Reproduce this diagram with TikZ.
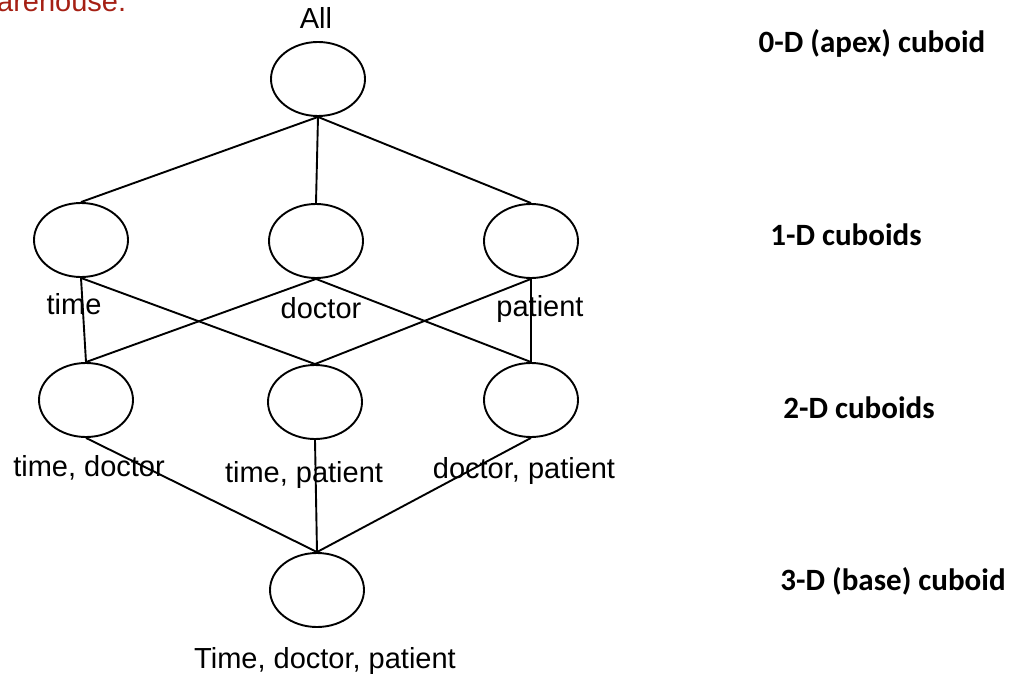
\documentclass[tikz,border=0pt]{standalone}
\usepackage{fontspec}
\setmainfont{Liberation Sans}
\newfontfamily\carlitofont{Carlito}
\usetikzlibrary{shapes.geometric}
\definecolor{hdred}{RGB}{165,32,20}
\begin{document}
\begin{tikzpicture}[x=1pt,y=-1pt,
  cub/.style={draw,ellipse,line width=1.9pt,minimum width=94pt,minimum height=74pt,inner sep=0pt},
  lbl/.style={anchor=base,inner sep=0pt,font=\fontsize{29}{34}\selectfont},
  lvl/.style={anchor=base,inner sep=0pt,font=\carlitofont\bfseries\fontsize{31}{36}\selectfont},
  con/.style={line width=1.9pt}]
\useasboundingbox (0,0) rectangle (1015,674);
\node[anchor=base west,inner sep=0pt,text=hdred,font=\fontsize{29}{34}\selectfont] (hd) at (-3,12) {arehouse.};
\node[cub] (a) at (318,79) {};
\node[cub] (t) at (81,240) {};
\node[cub] (d) at (316,241) {};
\node[cub] (p) at (531,241) {};
\node[cub] (td) at (86,400) {};
\node[cub] (tp) at (315,402) {};
\node[cub] (dp) at (531,400) {};
\node[cub] (b) at (317,590) {};
\draw[con] (a.south) -- (t.north);
\draw[con] (a.south) -- (d.north);
\draw[con] (a.south) -- (p.north);
\draw[con] (t.south) -- (td.north);
\draw[con] (t.south) -- (tp.north);
\draw[con] (d.south) -- (td.north);
\draw[con] (d.south) -- (dp.north);
\draw[con] (p.south) -- (tp.north);
\draw[con] (p.south) -- (dp.north);
\draw[con] (td.south) -- (b.north);
\draw[con] (tp.south) -- (b.north);
\draw[con] (dp.south) -- (b.north);
\node[lbl] (la) at (316,29) {All};
\node[lbl] (lt) at (74,314) {time};
\node[lbl] (ld) at (321,318) {doctor};
\node[lbl] (lp) at (540,316) {patient};
\node[lbl] (ltd) at (89,476) {time, doctor};
\node[lbl] (ltp) at (304,482) {time, patient};
\node[lbl] (ldp) at (524,478) {doctor, patient};
\node[lbl] (lb) at (325,668) {Time, doctor, patient};
\node[lvl] (l0) at (872,53) {0-D (apex) cuboid};
\node[lvl] (l1) at (846,245) {1-D cuboids};
\node[lvl] (l2) at (859,418) {2-D cuboids};
\node[lvl] (l3) at (893,590) {3-D (base) cuboid};
\end{tikzpicture}
\end{document}
